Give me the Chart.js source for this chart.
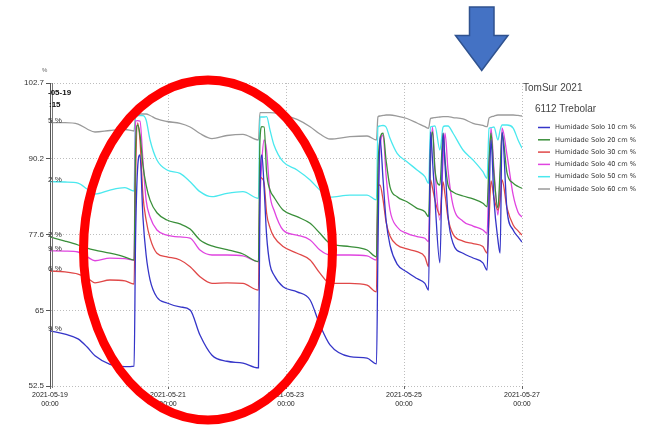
<!DOCTYPE html>
<html>
<head>
<meta charset="utf-8">
<script src="https://cdn.jsdelivr.net/npm/chart.js@4/dist/chart.umd.min.js"></script>
<style>
  html, body { margin: 0; padding: 0; background: #fff; }
  canvas { display: block; }
</style>
</head>
<body>
<canvas id="chart" width="653" height="425"></canvas>
<script>
// hours since 2021-05-19 00:00
var hours = [0, 6.1, 11.4, 15.1, 18.3, 24.4, 30.5, 34.2, 34.8, 35.6, 36.6, 37.8, 39.1, 40.7, 43.5, 47.6,
  52.9, 57.0, 61.0, 65.9, 72.0, 78.5, 84.8, 85.4, 86.2, 87.1, 88.1, 89.5, 91.1, 94.8, 100.5, 105.8,
  109.8, 113.9, 122.0, 129.0, 132.8, 133.4, 134.2, 135.5, 136.7, 138.3, 141.2, 145.2, 149.3, 152.5,
  154.0, 154.8, 155.6, 156.6, 158.6, 159.9, 160.7, 161.9, 163.9, 168.0, 172.1, 176.1, 177.8, 178.6,
  179.4, 180.6, 182.2, 183.1, 183.9, 185.9, 188.4, 190.4, 192.0];

var solo10 = [61.65, 61.1, 60.3, 58.95, 57.5, 56.1, 55.7, 55.8, 76.7, 88.3, 90.8, 80.5, 74.2, 70.1, 67.2, 66.25,
  65.6, 65.1, 60.95, 57.6, 56.6, 56.3, 55.5, 83.3, 90.8, 85.3, 77.5, 72.55, 70.9, 68.95, 68.1, 66.75,
  62.6, 59.3, 57.35, 57.1, 56.15, 75.0, 93.75, 86.6, 80.0, 75.85, 72.7, 71.4, 70.3, 69.5,
  68.4, 94.6, 89.9, 83.3, 72.9, 94.4, 89.1, 80.8, 76.2, 74.5, 73.7, 72.9, 71.7, 83.3,
  93.26, 83.3, 76.7, 74.5, 94.6, 81.66, 78.34, 77.2, 76.35];

var solo20 = [77.2, 76.5, 75.86, 75.36, 75.03, 74.5, 73.87, 73.37, 91.6, 95.74, 94.1, 89.1, 85.8, 83.3, 81.2, 80.0,
  79.35, 78.5, 76.7, 75.7, 75.1, 74.37, 73.1, 93.26, 95.46, 95.41, 87.96, 84.97, 83.8, 81.66, 80.55, 79.45,
  77.8, 76.14, 75.6, 75.03, 73.9, 88.3, 93.26, 94.4, 89.94, 85.5, 83.86, 83.03, 81.94, 81.37,
  80.55, 91.6, 94.6, 88.3, 85.8, 94.4, 89.94, 85.8, 84.64, 83.98, 83.5, 82.77, 82.2, 89.94,
  94.4, 87.46, 82.0, 88.3, 94.4, 87.8, 86.1, 85.55, 85.25];

var solo30 = [71.55, 71.4, 71.05, 70.4, 69.6, 70.06, 69.9, 69.4, 86.6, 96.07, 93.26, 84.15, 80.0, 77.0, 74.5, 73.9,
  73.37, 72.26, 70.6, 69.5, 69.6, 69.5, 68.4, 87.1, 86.9, 86.13, 81.16, 78.7, 77.2, 75.6, 74.5, 73.37,
  71.2, 69.5, 69.5, 69.2, 68.1, 85.6, 85.8, 83.3, 79.7, 77.35, 75.86, 75.2, 74.75, 73.9,
  72.27, 86.63, 85.3, 83.3, 80.83, 86.3, 84.15, 80.3, 77.7, 76.5, 76.1, 75.6, 74.5, 80.0,
  86.5, 83.65, 81.66, 83.3, 86.63, 82.0, 79.17, 78.2, 77.5];

var solo40 = [74.9, 74.85, 74.7, 73.9, 73.25, 73.7, 73.6, 73.37, 96.4, 96.45, 96.4, 89.94, 83.3, 80.5, 78.35, 77.5,
  77.2, 77.0, 75.03, 74.2, 74.2, 74.05, 73.1, 83.3, 89.94, 93.26, 91.6, 84.15, 81.66, 78.35, 77.5, 76.7,
  75.03, 74.2, 74.2, 74.05, 73.37, 83.3, 91.6, 94.1, 87.46, 81.66, 78.84, 77.8, 77.25, 76.97,
  76.4, 89.94, 95.4, 88.3, 80.0, 89.94, 94.4, 88.3, 82.5, 79.8, 79.0, 78.35, 77.8, 88.3,
  95.2, 88.3, 80.83, 86.6, 95.2, 90.8, 84.15, 81.3, 80.5];

var solo50 = [86.35, 86.3, 86.13, 85.13, 84.31, 84.97, 85.35, 84.8, 97.23, 97.28, 97.28, 97.28, 96.57, 93.26, 89.94, 88.29,
  87.74, 86.35, 84.7, 83.86, 84.42, 84.7, 83.6, 97.07, 97.07, 97.07, 97.12, 94.9, 92.43, 89.66, 88.29, 86.63,
  84.97, 83.8, 84.14, 84.14, 83.32, 95.41, 95.58, 95.66, 95.41, 93.54, 91.05, 89.66, 88.29, 87.18,
  86.08, 95.41, 95.5, 95.58, 91.6, 95.41, 95.58, 95.58, 94.42, 91.6, 89.94, 88.0, 86.9, 95.2,
  95.3, 95.41, 93.26, 94.9, 95.74, 95.74, 95.24, 93.26, 91.88];

var solo60 = [96.12, 96.15, 95.9, 95.08, 94.58, 94.83, 95.0, 94.75, 97.4, 97.48, 97.56, 97.56, 97.56, 97.32, 96.74, 96.32,
  96.02, 95.41, 94.33, 93.5, 94.0, 94.2, 93.26, 97.8, 97.8, 97.8, 97.8, 97.8, 97.75, 97.48, 96.66, 95.46,
  94.25, 93.42, 93.8, 93.92, 93.26, 97.07, 97.23, 97.32, 97.4, 97.4, 97.23, 96.82, 96.07, 95.46,
  95.2, 96.85, 96.9, 96.98, 97.07, 97.12, 97.12, 97.12, 96.98, 96.74, 96.02, 95.66, 95.46, 96.9,
  97.07, 97.23, 97.4, 97.4, 97.4, 97.4, 97.4, 97.32, 97.23];

var seriesNames = ['Humidade Solo 10 cm %', 'Humidade Solo 20 cm %', 'Humidade Solo 30 cm %',
  'Humidade Solo 40 cm %', 'Humidade Solo 50 cm %', 'Humidade Solo 60 cm %'];
var seriesValues = [solo10, solo20, solo30, solo40, solo50, solo60];
var seriesColors = ['#3535c8', '#3a8f3a', '#e04848', '#e044e0', '#4ae8ee', '#9a9a9a'];
// cut-off cursor readouts at the left edge
var cursorTexts = ['9 %', '2 %', '6 %', '9 %', '2 %', '5 %'];

var yTicks = [52.5, 65, 77.6, 90.2, 102.7];
var xTicks = [0, 48, 96, 144, 192];
var xTickLabels = [['2021-05-19', '00:00'], ['2021-05-21', '00:00'], ['2021-05-23', '00:00'],
  ['2021-05-25', '00:00'], ['2021-05-27', '00:00']];

var chartTitle = 'TomSur 2021';
var stationName = '6112 Trebolar';

var overlayPlugin = {
  id: 'overlay',
  afterDraw: function (chart) {
    var ctx = chart.ctx;
    var area = chart.chartArea;
    var yScale = chart.scales.y;

    ctx.save();
    // second cursor line next to the axis
    ctx.strokeStyle = '#777';
    ctx.lineWidth = 1;
    ctx.beginPath();
    ctx.moveTo(area.left + 2.5, area.top);
    ctx.lineTo(area.left + 2.5, area.bottom + 2);
    ctx.stroke();

    // unit label
    ctx.fillStyle = '#666';
    ctx.font = '6px "Liberation Sans", Arial, sans-serif';
    ctx.textAlign = 'left';
    ctx.textBaseline = 'middle';
    ctx.fillText('%', 42, 70);

    // cursor readout (cut off)
    ctx.fillStyle = '#111';
    ctx.font = 'bold 8px "Liberation Sans", Arial, sans-serif';
    ctx.fillText('-05-19', 48, 93);
    ctx.fillText(':15', 49, 105);

    ctx.font = '8px "Liberation Sans", Arial, sans-serif';
    ctx.fillStyle = '#333';
    for (var i = 0; i < seriesValues.length; i++) {
      var py = yScale.getPixelForValue(seriesValues[i][0]) - 2;
      ctx.fillText(cursorTexts[i], 48, py);
    }

    // legend
    ctx.fillStyle = '#444';
    ctx.font = '10px "Liberation Sans", Arial, sans-serif';
    ctx.fillText(chartTitle, 523, 88);
    ctx.fillText(stationName, 535, 109);
    ctx.font = '6.6px "DejaVu Sans", sans-serif';
    for (var j = 0; j < seriesNames.length; j++) {
      var ly = 127.5 + j * 12.3;
      ctx.strokeStyle = seriesColors[j];
      ctx.lineWidth = 1.5;
      ctx.beginPath();
      ctx.moveTo(538, ly);
      ctx.lineTo(550, ly);
      ctx.stroke();
      ctx.fillStyle = '#333';
      ctx.fillText(seriesNames[j], 555, ly);
    }

    // red ellipse annotation
    ctx.strokeStyle = '#ff0000';
    ctx.lineWidth = 9;
    ctx.beginPath();
    ctx.ellipse(208, 250, 124.5, 170, 0, 0, Math.PI * 2);
    ctx.stroke();

    // blue arrow annotation
    ctx.fillStyle = '#4472c4';
    ctx.strokeStyle = '#2f528f';
    ctx.lineWidth = 1.5;
    ctx.beginPath();
    ctx.moveTo(469.5, 7);
    ctx.lineTo(494, 7);
    ctx.lineTo(494, 35.5);
    ctx.lineTo(508, 35.5);
    ctx.lineTo(481.7, 70.5);
    ctx.lineTo(455.5, 35.5);
    ctx.lineTo(469.5, 35.5);
    ctx.closePath();
    ctx.fill();
    ctx.stroke();
    ctx.restore();
  }
};

var datasets = seriesValues.map(function (vals, i) {
  return {
    label: seriesNames[i],
    data: hours.map(function (h, k) { return { x: h, y: vals[k] }; }),
    borderColor: seriesColors[i],
    backgroundColor: seriesColors[i],
    borderWidth: 1.3,
    pointRadius: 0,
    cubicInterpolationMode: 'monotone',
    fill: false
  };
});

var ctx = document.getElementById('chart').getContext('2d');
var myChart = new Chart(ctx, {
  type: 'line',
  data: { datasets: datasets },
  options: {
    responsive: false,
    animation: false,
    events: [],
    layout: { padding: { top: 83, right: 131, bottom: 0, left: 0 } },
    plugins: {
      legend: { display: false },
      tooltip: { enabled: false }
    },
    scales: {
      x: {
        type: 'linear',
        min: 0,
        max: 192,
        afterBuildTicks: function (axis) {
          axis.ticks = xTicks.map(function (v) { return { value: v }; });
        },
        afterFit: function (axis) { axis.height = 39; },
        ticks: {
          autoSkip: false,
          maxRotation: 0,
          padding: 2,
          color: '#222',
          font: { family: '"Liberation Sans", Arial, sans-serif', size: 7 },
          callback: function (v) { return xTickLabels[xTicks.indexOf(v)]; }
        },
        grid: { color: '#bdbdbd', tickColor: '#666', tickLength: 3, tickBorderDash: [] },
        border: { display: false, dash: [1, 2] }
      },
      y: {
        min: 52.5,
        max: 102.7,
        afterBuildTicks: function (axis) {
          axis.ticks = yTicks.map(function (v) { return { value: v }; });
        },
        afterFit: function (axis) { axis.width = 50; },
        ticks: {
          padding: 2,
          color: '#333',
          font: { family: '"Liberation Sans", Arial, sans-serif', size: 8 },
          callback: function (v) { return String(v); }
        },
        grid: { color: '#bdbdbd', tickColor: '#555', tickLength: 4, tickBorderDash: [] },
        border: { display: true, color: '#555', width: 1, dash: [1, 2] }
      }
    }
  },
  plugins: [overlayPlugin]
});
</script>
</body>
</html>
